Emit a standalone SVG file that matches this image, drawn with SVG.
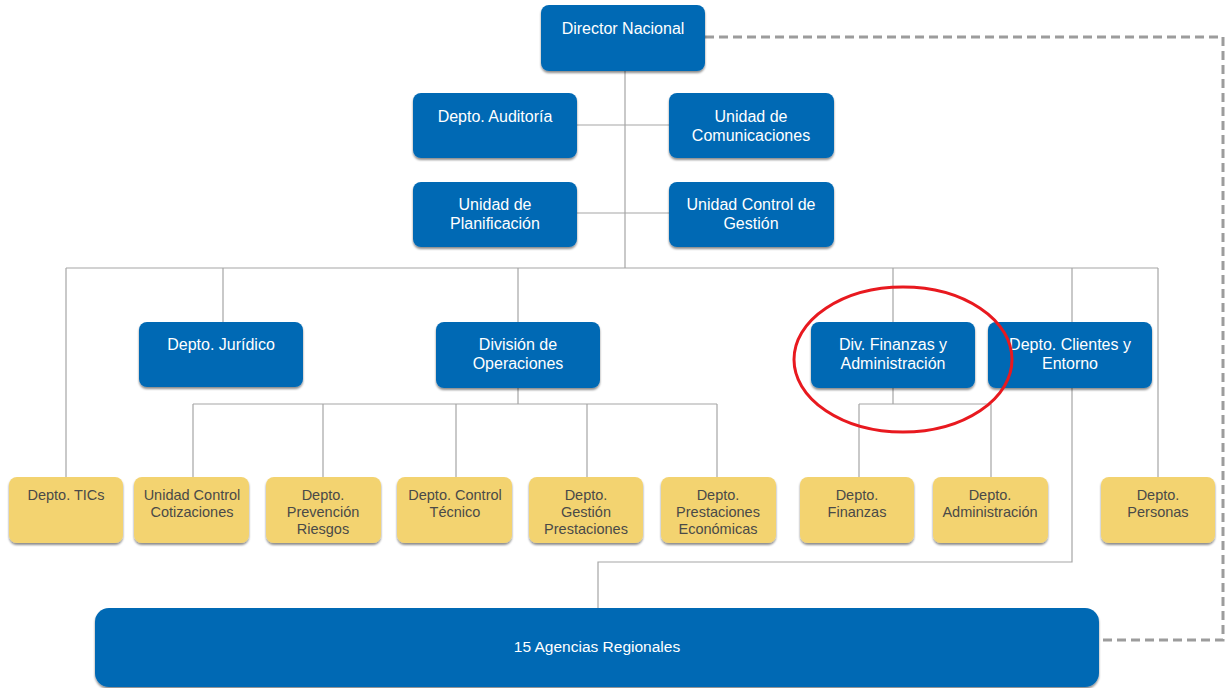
<svg xmlns="http://www.w3.org/2000/svg" width="1231" height="688" viewBox="0 0 1231 688">
<style>
.blue{fill:#0069b4;filter:url(#sh)}
.yel{fill:#f3d370;filter:url(#sh)}
.bt{font-family:"Liberation Sans",Arial,sans-serif;font-size:16px;fill:#ffffff;text-anchor:middle}
.yt{font-family:"Liberation Sans",Arial,sans-serif;font-size:14.5px;fill:#4a4a48;text-anchor:middle}
.ln{stroke:#a6a6a6;stroke-width:1.2;fill:none}
.dash{stroke:#9c9c9c;stroke-width:3;fill:none;stroke-dasharray:9 5}
</style>
<defs>
<filter id="sh" x="-10%" y="-10%" width="120%" height="130%">
<feDropShadow dx="0" dy="2" stdDeviation="1.2" flood-color="#000" flood-opacity="0.45"/>
</filter>
</defs>
<rect width="1231" height="688" fill="#ffffff"/>
<g id="connectors">
<path class="ln" d="M625 71V268M577 125H669M577 213H669"/>
<path class="ln" d="M66 268H1158M66 268V477M223 268V322M518 268V322M893 268V322M1072 268V322M1158 268V477"/>
<path class="ln" d="M518 388V404M193 404H717M193 404V477M323 404V477M456 404V477M587 404V477M717 404V477"/>
<path class="ln" d="M893 388V404M859 404H991M859 404V477M991 404V477"/>
<path class="ln" d="M1072 388V562H598V608"/>
<path class="dash" d="M705 37H1223V640H1099"/>
</g>
<g id="director"><rect class="blue" x="541" y="5" width="164" height="66" rx="8"/><text class="bt" x="623" y="34">Director Nacional</text></g>
<g id="auditoria"><rect class="blue" x="413" y="93" width="164" height="65" rx="8"/><text class="bt" x="495" y="122">Depto. Auditoría</text></g>
<g id="comunicaciones"><rect class="blue" x="669" y="93" width="165" height="65" rx="8"/><text class="bt" x="751" y="122">Unidad de</text><text class="bt" x="751" y="141">Comunicaciones</text></g>
<g id="planificacion"><rect class="blue" x="413" y="182" width="164" height="65" rx="8"/><text class="bt" x="495" y="210">Unidad de</text><text class="bt" x="495" y="229">Planificación</text></g>
<g id="control-gestion"><rect class="blue" x="669" y="182" width="165" height="65" rx="8"/><text class="bt" x="751" y="210">Unidad Control de</text><text class="bt" x="751" y="229">Gestión</text></g>
<g id="juridico"><rect class="blue" x="139" y="322" width="164" height="65" rx="8"/><text class="bt" x="221" y="350">Depto. Jurídico</text></g>
<g id="operaciones"><rect class="blue" x="436" y="322" width="164" height="66" rx="8"/><text class="bt" x="518" y="350">División de</text><text class="bt" x="518" y="369">Operaciones</text></g>
<g id="finanzas-adm"><rect class="blue" x="811" y="322" width="164" height="66" rx="8"/><text class="bt" x="893" y="350">Div. Finanzas y</text><text class="bt" x="893" y="369">Administración</text></g>
<g id="clientes"><rect class="blue" x="988" y="322" width="164" height="66" rx="8"/><text class="bt" x="1070" y="350">Depto. Clientes y</text><text class="bt" x="1070" y="369">Entorno</text></g>
<g id="tics"><rect class="yel" x="9" y="477" width="114" height="66" rx="8"/><text class="yt" x="66" y="500">Depto. TICs</text></g>
<g id="cotizaciones"><rect class="yel" x="134" y="477" width="115" height="66" rx="8"/><text class="yt" x="192" y="500">Unidad Control</text><text class="yt" x="192" y="517">Cotizaciones</text></g>
<g id="prevencion"><rect class="yel" x="266" y="477" width="115" height="66" rx="8"/><text class="yt" x="323" y="500">Depto.</text><text class="yt" x="323" y="517">Prevención</text><text class="yt" x="323" y="534">Riesgos</text></g>
<g id="control-tecnico"><rect class="yel" x="397" y="477" width="115" height="66" rx="8"/><text class="yt" x="455" y="500">Depto. Control</text><text class="yt" x="455" y="517">Técnico</text></g>
<g id="gestion-prestaciones"><rect class="yel" x="529" y="477" width="114" height="66" rx="8"/><text class="yt" x="586" y="500">Depto.</text><text class="yt" x="586" y="517">Gestión</text><text class="yt" x="586" y="534">Prestaciones</text></g>
<g id="prestaciones-economicas"><rect class="yel" x="661" y="477" width="115" height="66" rx="8"/><text class="yt" x="718" y="500">Depto.</text><text class="yt" x="718" y="517">Prestaciones</text><text class="yt" x="718" y="534">Económicas</text></g>
<g id="finanzas"><rect class="yel" x="800" y="477" width="114" height="66" rx="8"/><text class="yt" x="857" y="500">Depto.</text><text class="yt" x="857" y="517">Finanzas</text></g>
<g id="administracion"><rect class="yel" x="933" y="477" width="115" height="66" rx="8"/><text class="yt" x="990" y="500">Depto.</text><text class="yt" x="990" y="517">Administración</text></g>
<g id="personas"><rect class="yel" x="1101" y="477" width="114" height="66" rx="8"/><text class="yt" x="1158" y="500">Depto.</text><text class="yt" x="1158" y="517">Personas</text></g>
<g id="agencias"><rect class="blue" x="95" y="608" width="1004" height="79" rx="14"/><text class="bt" x="597" y="652" style="font-size:15.5px">15 Agencias Regionales</text></g>
<ellipse cx="903" cy="359.5" rx="109" ry="72.5" fill="none" stroke="#e8191f" stroke-width="3"/>
</svg>
